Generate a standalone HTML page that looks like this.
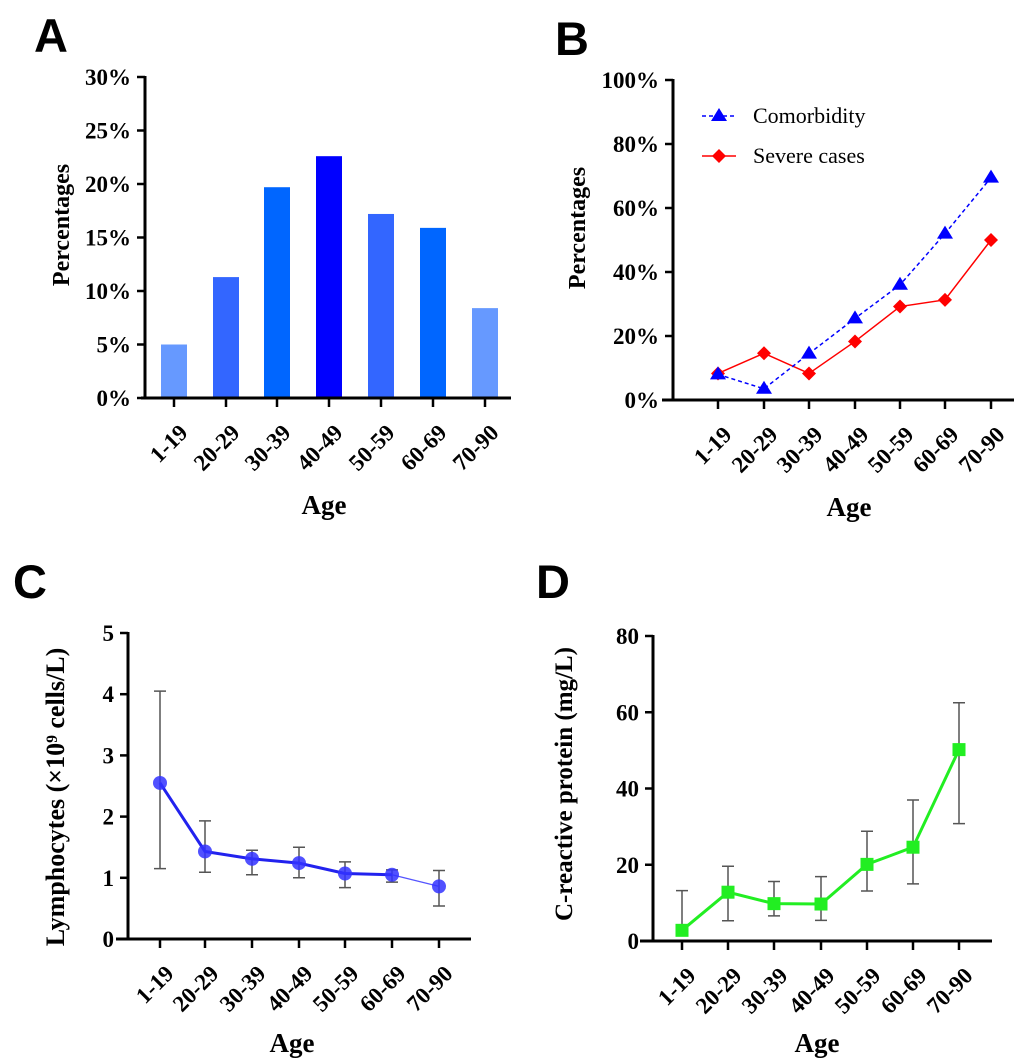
<!DOCTYPE html>
<html><head><meta charset="utf-8"><style>
html,body{margin:0;padding:0;background:#fff;}
svg{display:block;}
text{font-family:"Liberation Serif",serif;font-weight:bold;fill:#000;}
.L{font-family:"Liberation Sans",sans-serif;font-size:47px;}
</style></head><body>
<svg id="s" width="1020" height="1064" viewBox="0 0 1020 1064" xmlns="http://www.w3.org/2000/svg">
<text class="L" x="34" y="52">A</text>
<text class="L" x="555" y="55">B</text>
<text class="L" x="13" y="598">C</text>
<text class="L" x="536" y="598">D</text>
<line x1="702" y1="116" x2="736" y2="116" stroke="#0000ff" stroke-width="1.5" stroke-dasharray="4,3"/>
<polygon points="719,108 727,121 711,121" fill="#0000ff"/>
<text x="753" y="123" style="font-weight:normal;font-size:22px">Comorbidity</text>
<line x1="702" y1="156" x2="736" y2="156" stroke="#ff0000" stroke-width="1.5"/>
<polygon points="719,149 726,156 719,163 712,156" fill="#ff0000"/>
<text x="753" y="163" style="font-weight:normal;font-size:22px">Severe cases</text>
</svg>
<script>
var s=document.getElementById('s'),NS='http://www.w3.org/2000/svg';
function el(t,a,txt){var e=document.createElementNS(NS,t);for(var k in a)e.setAttribute(k,a[k]);if(txt!=null)e.textContent=txt;s.appendChild(e);return e;}
var cats=['1-19','20-29','30-39','40-49','50-59','60-69','70-90'];
function axes(o){
 el('line',{x1:o.ax,y1:o.y1-1,x2:o.ax,y2:o.y0+1.5,stroke:'#000','stroke-width':3});
 el('line',{x1:o.xl,y1:o.y0,x2:o.xr,y2:o.y0,stroke:'#000','stroke-width':3});
 o.ticks.forEach(function(t){var y=o.y0-(o.y0-o.y1)*t.v/o.vmax;
  el('line',{x1:o.ax-8,y1:y,x2:o.ax,y2:y,stroke:'#000','stroke-width':2.5});
  el('text',{x:o.ax-14,y:y+8,'text-anchor':'end','font-size':23},t.l);});
 o.xs.forEach(function(x,i){
  el('line',{x1:x,y1:o.y0,x2:x,y2:o.y0+9,stroke:'#000','stroke-width':2.5});
  var tx=x+15,ty=o.y0+36;
  el('text',{x:tx,y:ty,'text-anchor':'end','font-size':23,transform:'rotate(-45 '+tx+' '+ty+')'},cats[i]);});
 el('text',{x:o.ageX,y:o.ageY,'text-anchor':'middle','font-size':27},'Age');
 el('text',{x:o.ytx,y:o.yty,'text-anchor':'middle','font-size':o.yfs,transform:'rotate(-90 '+o.ytx+' '+o.yty+')'},o.ytitle);
}
function Y(o,v){return o.y0-(o.y0-o.y1)*v/o.vmax;}
var A={ax:145,y0:398,y1:77,xl:141,xr:511,vmax:30,xs:[174,226,277,329,381,433,485],ageX:324,ageY:514,ytx:69,yty:225,yfs:24,ytitle:'Percentages',
 ticks:[0,5,10,15,20,25,30].map(function(v){return{v:v,l:v+'%'}})};
var av=[5,11.3,19.7,22.6,17.2,15.9,8.4],ac=['#6699ff','#3366ff','#0066ff','#0000ff','#3366ff','#0066ff','#6699ff'];
av.forEach(function(v,i){var y=Y(A,v);el('rect',{x:A.xs[i]-13,y:y,width:26,height:A.y0-y,fill:ac[i]});});
axes(A);
var B={ax:673,y0:400,y1:80,xl:662,xr:1014,vmax:100,xs:[718,764,809,855,900,945,991],ageX:849,ageY:516,ytx:585,yty:228,yfs:24,ytitle:'Percentages',
 ticks:[0,20,40,60,80,100].map(function(v){return{v:v,l:v+'%'}})};
axes(B);
var cm=[8,3.5,14.5,25.5,36,52,69.5],sv=[8.3,14.6,8.3,18.3,29.2,31.3,50];
el('polyline',{points:sv.map(function(v,i){return B.xs[i]+','+Y(B,v)}).join(' '),fill:'none',stroke:'#ff0000','stroke-width':1.5});
el('polyline',{points:cm.map(function(v,i){return B.xs[i]+','+Y(B,v)}).join(' '),fill:'none',stroke:'#0000ff','stroke-width':1.5,'stroke-dasharray':'4,3'});
sv.forEach(function(v,i){var x=B.xs[i],y=Y(B,v);el('polygon',{points:x+','+(y-7)+' '+(x+7)+','+y+' '+x+','+(y+7)+' '+(x-7)+','+y,fill:'#ff0000'});});
cm.forEach(function(v,i){var x=B.xs[i],y=Y(B,v);el('polygon',{points:x+','+(y-8)+' '+(x+8)+','+(y+5)+' '+(x-8)+','+(y+5),fill:'#0000ff'});});
var C={ax:128,y0:939,y1:633,xl:116,xr:471,vmax:5,xs:[160,205,252,299,345,392,439],ageX:292,ageY:1052,ytx:64,yty:797,yfs:26,ytitle:'Lymphocytes (×10⁹ cells/L)',
 ticks:[0,1,2,3,4,5].map(function(v){return{v:v,l:''+v}})};
axes(C);
var cv=[2.55,1.43,1.31,1.24,1.07,1.05,0.86],ce=[[1.15,4.05],[1.09,1.93],[1.05,1.45],[1.0,1.5],[0.84,1.26],[0.93,1.13],[0.54,1.12]];
ce.forEach(function(e,i){var x=C.xs[i];el('path',{d:'M'+x+','+Y(C,e[0])+'V'+Y(C,e[1])+'M'+(x-6)+','+Y(C,e[0])+'h12M'+(x-6)+','+Y(C,e[1])+'h12',stroke:'#555','stroke-width':1.5,fill:'none'});});
el('polyline',{points:cv.slice(0,6).map(function(v,i){return C.xs[i]+','+Y(C,v)}).join(' '),fill:'none',stroke:'#2222ee','stroke-width':3});
el('line',{x1:C.xs[5],y1:Y(C,cv[5]),x2:C.xs[6],y2:Y(C,cv[6]),stroke:'#5555ff','stroke-width':1.2});
cv.forEach(function(v,i){el('circle',{cx:C.xs[i],cy:Y(C,v),r:7,fill:'#3333ff','fill-opacity':0.85});});
var D={ax:653,y0:941,y1:636,xl:640,xr:992,vmax:80,xs:[682,728,774,821,867,913,959],ageX:817,ageY:1052,ytx:572,yty:784,yfs:25,ytitle:'C-reactive protein (mg/L)',
 ticks:[0,20,40,60,80].map(function(v){return{v:v,l:''+v}})};
axes(D);
var dv=[2.8,12.8,9.8,9.7,20.1,24.6,50.2],de=[[2.8,13.2],[5.3,19.6],[6.6,15.6],[5.4,16.9],[13.1,28.8],[15,37],[30.8,62.5]];
de.forEach(function(e,i){var x=D.xs[i];el('path',{d:'M'+x+','+Y(D,e[0])+'V'+Y(D,e[1])+'M'+(x-6)+','+Y(D,e[0])+'h12M'+(x-6)+','+Y(D,e[1])+'h12',stroke:'#555','stroke-width':1.5,fill:'none'});});
el('polyline',{points:dv.map(function(v,i){return D.xs[i]+','+Y(D,v)}).join(' '),fill:'none',stroke:'#22ee22','stroke-width':3});
dv.forEach(function(v,i){var x=D.xs[i],y=Y(D,v);el('rect',{x:x-6.5,y:y-6.5,width:13,height:13,fill:'#22ee22'});});
</script>
</body></html>
